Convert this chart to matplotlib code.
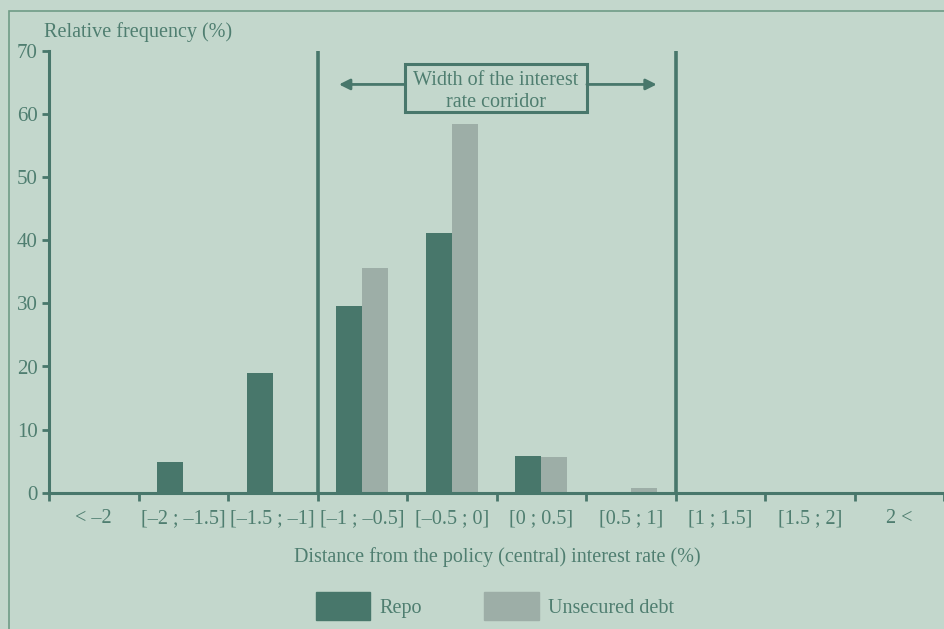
import matplotlib
matplotlib.use("Agg")
import matplotlib.pyplot as plt
from matplotlib.patches import Rectangle, Patch

# data (relative frequency, %)
categories = ["< \u20132", "[\u20132 ; \u20131.5]", "[\u20131.5 ; \u20131]", "[\u20131 ; \u20130.5]",
              "[\u20130.5 ; 0]", "[0 ; 0.5]", "[0.5 ; 1]", "[1 ; 1.5]", "[1.5 ; 2]", "2 <"]
repo = [0, 4.8, 18.9, 29.6, 41.2, 5.8, 0, 0, 0, 0]
unsecured = [0, 0, 0, 35.6, 58.5, 5.6, 0.8, 0, 0, 0]
yticks = [0, 10, 20, 30, 40, 50, 60, 70]

BG = "#c3d7cc"
DARK = "#48776b"
GREY = "#9daea7"
TXT = "#4f7e70"
FRAME = "#6f9c87"
FS = 14.5

plt.rcParams["font.family"] = ["Liberation Serif", "DejaVu Serif"]
plt.rcParams["font.size"] = FS

fig = plt.figure(figsize=(9.44, 6.29), dpi=100, facecolor=BG)
fig.patches.append(Rectangle((9 / 944, -0.1), 1.2, 1 - 11 / 629 + 0.1,
                             transform=fig.transFigure, fill=False,
                             edgecolor=FRAME, lw=1.2))

ax = fig.add_axes([49 / 944, 1 - 492.7 / 629, 1 - 49 / 944, (492.7 - 51) / 629])
ax.set_facecolor("none")

x = list(range(len(categories)))
w = 0.29
ax.bar(x, repo, width=-w, align="edge", color=DARK)
ax.bar(x, unsecured, width=w, align="edge", color=GREY)

ax.set_xlim(-0.5, 9.5)
ax.set_ylim(0, 70)

for s in ["top", "right"]:
    ax.spines[s].set_visible(False)
for s in ["left", "bottom"]:
    ax.spines[s].set_color(DARK)
    ax.spines[s].set_linewidth(2.2)

ax.set_yticks(yticks)
ax.tick_params(axis="y", colors=DARK, labelcolor=TXT, length=5, width=2, pad=3, labelsize=15)
ax.set_xticks(x)
ax.set_xticklabels(categories)
ax.tick_params(axis="x", which="major", length=0, pad=12, labelcolor=TXT, labelsize=FS)
ax.set_xticks([i - 0.5 for i in range(11)], minor=True)
ax.tick_params(axis="x", which="minor", length=6, width=2, colors=DARK)

# corridor limits
for xv in [2.5, 6.5]:
    ax.axvline(xv, ymin=0, ymax=1, color=DARK, lw=2.6)

# corridor annotation
box_l, box_r, box_b, box_t = 3.48, 5.51, 60.3, 68.0
ax.add_patch(Rectangle((box_l, box_b), box_r - box_l, box_t - box_b,
                       fill=False, edgecolor=DARK, lw=2.2))
ax.text((box_l + box_r) / 2, 63.6, "Width of the interest\nrate corridor",
        ha="center", va="center", color=TXT, fontsize=FS, linespacing=1.25)
ax.annotate("", xy=(2.74, 64.7), xytext=(box_l, 64.7),
            arrowprops=dict(arrowstyle="-|>", color=DARK, lw=2, mutation_scale=16,
                            shrinkA=0, shrinkB=0))
ax.annotate("", xy=(6.29, 64.7), xytext=(box_r, 64.7),
            arrowprops=dict(arrowstyle="-|>", color=DARK, lw=2, mutation_scale=16,
                            shrinkA=0, shrinkB=0))

fig.text(44 / 944, 1 - 32 / 629, "Relative frequency (%)", color=TXT, fontsize=FS,
         ha="left", va="center")
fig.text(497 / 944, 1 - 557 / 629, "Distance from the policy (central) interest rate (%)",
         color=TXT, fontsize=FS, ha="center", va="center")

handles = [Patch(color=DARK, label="Repo"), Patch(color=GREY, label="Unsecured debt")]
fig.legend(handles=handles, loc="center", bbox_to_anchor=(495 / 944, 1 - 606 / 629),
           ncol=2, frameon=False, handlelength=2.7, handleheight=1.7, handletextpad=0.45,
           columnspacing=3.1, fontsize=FS, labelcolor=TXT)

fig.savefig("out.png", dpi=100, facecolor=BG)
